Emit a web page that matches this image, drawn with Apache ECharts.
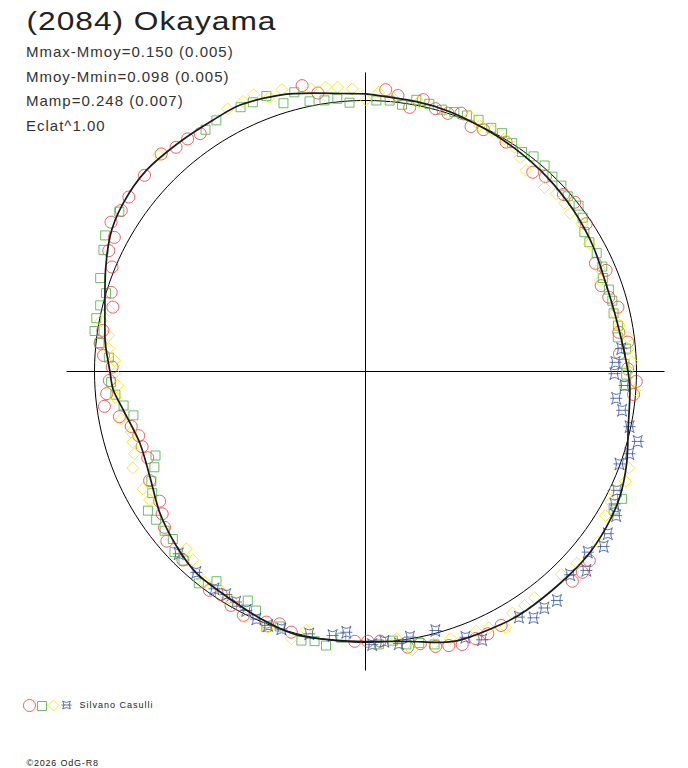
<!DOCTYPE html>
<html><head><meta charset="utf-8">
<script src="https://cdn.jsdelivr.net/npm/echarts@6/dist/echarts.min.js"></script>
<style>html,body{margin:0;padding:0;background:#fff}#c{width:688px;height:768px}</style>
</head><body><div id="c"></div>
<script>
// ---- texts ----
const TITLE = '(2084) Okayama';
const INFO_LINES = ['Mmax-Mmoy=0.150 (0.005)', 'Mmoy-Mmin=0.098 (0.005)', 'Mamp=0.248 (0.007)', 'Eclat^1.00'];
const OBSERVER = 'Silvano Casulli';
const FOOTER = '\u00A92026 OdG-R8';
const SESSIONS = ['Session 1', 'Session 2', 'Session 3', 'Session 4'];

// ---- data: [rotation angle (deg, clockwise from top), magnitude offset from mean (mag, + = brighter)] ----
const SESSION_1 = [
[347.5,0.089],[350.3,0.047],[330.5,0.118],[325.2,0.076],[322.6,0.089],[319.8,0.092],[316.8,0.112],[314.3,0.136],[311.6,0.100],[308.7,0.119],[306.4,0.094],[303.4,0.088],[300.4,0.098],[298.1,0.056],[295.2,0.052],[292.4,0.013],[287.3,-0.019],[284.3,-0.042],[278.9,-0.021],[276.1,-0.017],[273.5,-0.035],[271.0,-0.072],
[4.1,0.047],[6.7,0.028],[9.5,-0.013],[12.0,0.028],[14.9,0.004],[17.7,0.000],[20.3,0.018],[23.3,-0.017],[26.0,-0.008],[31.5,-0.008],[40.0,-0.044],[42.7,-0.023],[48.2,-0.022],[51.0,-0.008],[56.2,-0.022],[64.8,-0.069],[67.2,-0.041],[70.0,-0.082],[73.0,-0.068],[75.7,-0.043],[81.2,-0.060],[83.6,-0.029],[86.0,-0.067],[89.4,-0.036],
[92.1,0.000],[94.9,-0.008],[130.2,0.090],[132.8,0.100],[135.4,0.096],[151.9,0.069],[155.0,0.075],[157.6,0.073],[160.5,0.076],[163.1,0.063],[165.7,0.052],[168.6,0.027],[171.3,0.032],[176.9,-0.004],[179.5,-0.005],
[182.3,-0.004],[195.9,0.000],[198.8,-0.018],[201.6,-0.006],[206.6,0.007],[209.9,-0.005],[212.9,-0.022],[215.5,-0.009],[224.1,-0.035],[229.5,-0.040],[232.2,-0.068],[235.0,-0.093],[237.8,-0.113],[243.2,-0.119],[248.4,-0.150],[251.4,-0.144],[254.2,-0.144],[256.8,-0.124],[259.6,-0.085],[262.4,-0.031],[265.1,-0.046],[268.0,-0.060]
];
const SESSION_2 = [
[356.6,-0.007],[354.1,0.013],[351.4,0.013],[348.3,0.020],[345.7,0.070],[343.0,0.039],[340.2,0.089],[337.3,0.085],[334.7,0.087],[329.3,0.086],[326.5,0.077],[303.0,0.092],[300.2,0.126],[297.6,0.093],[294.9,0.073],[289.4,0.042],[286.8,0.000],[284.0,0.010],[281.2,0.014],[278.5,0.012],[276.1,-0.014],[273.1,-0.057],
[2.3,0.001],[5.1,0.004],[7.8,-0.007],[10.6,0.022],[13.4,0.017],[16.3,0.007],[18.9,0.013],[21.6,0.018],[24.2,0.020],[27.3,0.013],[29.8,0.015],[32.7,0.002],[35.5,-0.006],[38.0,0.008],[41.0,0.008],[43.8,-0.004],[46.5,-0.004],[49.1,-0.014],[52.1,-0.004],[54.7,-0.020],[57.5,-0.047],[60.0,-0.051],[62.9,-0.046],[66.1,-0.049],[68.5,-0.065],[71.4,-0.058],[74.0,-0.058],[76.8,-0.066],[79.7,-0.059],[82.3,-0.067],[85.0,-0.038],[88.3,-0.049],
[90.7,-0.042],[93.1,-0.047],[116.4,0.063],[119.1,0.053],[165.8,0.043],[168.8,0.024],[171.5,0.020],[174.2,-0.002],[177.2,0.009],
[185.2,-0.015],[188.2,0.024],[190.7,0.014],[193.4,0.023],[198.6,-0.008],[201.2,0.013],[204.6,-0.033],[207.2,-0.055],[215.4,-0.056],[218.2,-0.006],[223.9,-0.035],[226.6,-0.033],[229.0,-0.064],[231.6,-0.060],[234.7,-0.059],[237.4,-0.052],[240.3,-0.104],[242.9,-0.124],[245.6,-0.160],[248.2,-0.183],[259.3,-0.142],[262.0,-0.109],[264.7,-0.081],[267.6,-0.067]
];
const SESSION_3 = [
[0.1,0.003],[357.3,0.049],[354.4,0.060],[352.0,0.066],[349.1,0.069],[343.5,0.094],[340.7,0.080],[338.0,0.112],[335.6,0.104],[332.3,0.104],[329.6,0.126],[327.3,0.127],[324.2,0.123],[321.6,0.133],[319.0,0.117],[316.3,0.114],[283.4,-0.032],[280.9,-0.007],[278.0,-0.048],[275.1,-0.054],[272.5,-0.081],
[2.7,0.035],[5.7,0.017],[11.2,0.014],[16.8,0.010],[22.3,0.019],[24.9,0.000],[27.7,0.005],[30.8,0.000],[33.6,-0.007],[35.9,-0.029],[38.6,-0.056],[44.2,-0.058],[47.0,-0.042],[49.8,-0.042],[52.3,-0.050],[55.7,-0.036],[60.3,-0.054],[66.3,-0.063],[68.8,-0.079],[76.8,-0.062],[79.7,-0.053],[82.5,-0.027],[85.1,-0.031],[88.0,-0.017],[89.8,-0.036],[94.0,-0.005],
[110.1,0.038],[112.9,0.046],[115.8,0.015],[118.0,0.030],[121.0,0.036],[126.3,0.071],[132.2,0.058],[136.0,0.045],[143.2,0.047],[145.8,0.049],[148.7,0.048],[151.3,0.084],[154.3,0.055],[156.9,0.046],[162.4,0.038],[165.8,0.040],[170.5,0.046],[173.3,-0.008],
[192.9,-0.022],[195.5,0.026],[200.9,0.011],[206.2,0.012],[210.2,-0.024],[212.9,-0.033],[217.4,-0.024],[219.6,-0.031],[222.5,-0.063],[225.3,-0.077],[239.3,-0.081],[242.2,-0.079],[247.5,-0.078],[250.4,-0.105],[253.1,-0.113],[255.5,-0.118],[259.0,-0.091],[264.1,-0.080],[266.8,-0.093],[269.5,-0.082]
];
const SESSION_4 = [
[84.9,-0.058],[87.9,-0.085],[90.5,-0.090],[93.1,-0.047],[96.1,-0.077],[98.6,-0.047],[101.8,-0.005],[104.4,0.041],[107.3,0.022],[110.0,-0.003],[115.3,0.029],[118.0,0.045],[119.9,0.074],[123.8,0.084],[126.3,0.100],[129.1,0.063],[132.0,0.107],[134.8,0.071],[140.1,0.112],[142.9,0.104],[145.7,0.111],[148.0,0.076],[151.1,0.124],[154.0,0.118],[156.5,0.088],[159.4,0.053],[164.9,-0.011],[170.5,-0.007],[173.0,0.013],[176.0,-0.002],[178.6,0.009],
[184.2,-0.039],[187.1,-0.020],[192.1,-0.011],[198.1,-0.001],[201.0,0.004],[203.8,-0.002],[206.5,-0.016],[209.3,-0.027],[212.0,-0.033],[214.8,-0.026],[220.1,-0.034],[225.7,-0.041]
];
// fitted lightcurve
const FIT = [
[0,0.027],[10.7,0.015],[18,0.009],[26.6,-0.003],[34.3,-0.011],[42.9,-0.020],[52.1,-0.032],[61.3,-0.046],[70.6,-0.062],[78.4,-0.060],[88.2,-0.040],[94,-0.024],[101.9,-0.010],[109.4,0.024],[116.2,0.051],[122.8,0.064],[129.9,0.071],[137.4,0.068],[146,0.069],[152,0.065],[160.6,0.056],[165.7,0.035],[170.6,0.011],[180,-0.004],[186.8,-0.002],[194.6,0.005],[202.4,-0.009],[211.6,-0.027],[219.9,-0.032],[227.1,-0.055],[235.4,-0.087],[244,-0.127],[252.3,-0.140],[261,-0.105],[265.8,-0.074],[270,-0.063],[277.6,-0.033],[288,0.012],[297.8,0.073],[304.8,0.098],[312.6,0.108],[321.1,0.099],[328.8,0.094],[334.8,0.096],[342.8,0.075],[349.3,0.050],[357.4,0.029],[360,0.027]
];

// ---- layout / style ----
const POLAR_R = 299, MEAN_R = 271, PX_PER_MAG = 245;
const R_MIN = -MEAN_R / PX_PER_MAG, R_MAX = (POLAR_R - MEAN_R) / PX_PER_MAG;
const FONT = '"Liberation Sans", Arial, sans-serif';
const COLORS = ['#ee3434', '#4aae42', '#f2e400', '#32509e'];
const STAR = 'path://M-10,-10 Q0,-3 10,-10 Q3,0 10,10 Q0,3 -10,10 Q-3,0 -10,-10 Z M-13,0 L13,0';
const toPolar = arr => arr.map(p => [p[1], p[0]]);

const hollow = c => ({color: 'rgba(0,0,0,0)', borderColor: c, borderWidth: 1});

const seriesDefs = [
  {data: SESSION_1, symbol: 'circle', size: 12},
  {data: SESSION_2, symbol: 'rect', size: 9},
  {data: SESSION_3, symbol: 'diamond', size: 12},
  {data: SESSION_4, symbol: STAR, size: 12}
];

const series = seriesDefs.map((d, i) => ({
  type: 'scatter', name: SESSIONS[i], coordinateSystem: 'polar',
  data: toPolar(d.data), symbol: d.symbol, symbolSize: d.size,
  itemStyle: hollow(COLORS[i]), z: 2 + i, silent: true
}));
series.push({
  type: 'line', name: 'fit', coordinateSystem: 'polar', data: toPolar(FIT),
  smooth: 0.3, symbol: 'none', lineStyle: {color: '#1a1a1a', width: 1.7}, z: 10, silent: true
});

const legendPos = [
  {left: 23, top: 699, w: 12, h: 12},
  {left: 37, top: 701, w: 9, h: 9},
  {left: 47.5, top: 699.5, w: 11, h: 11},
  {left: 61, top: 700.5, w: 10, h: 10}
];
const legend = SESSIONS.map((name, i) => ({
  data: [{name, icon: seriesDefs[i].symbol, itemStyle: hollow(COLORS[i])}],
  left: legendPos[i].left, top: legendPos[i].top, padding: 0,
  itemWidth: legendPos[i].w, itemHeight: legendPos[i].h, selectedMode: false,
  formatter: () => (i === 3 ? OBSERVER : ''),
  textStyle: {fontFamily: FONT, fontSize: 9, color: '#222', padding: [0, 0, 0, 3]}
}));

const graphic = [
  {type: 'text', x: 26.5, y: 21, scaleX: 1.22,
    style: {text: TITLE, font: '26px ' + FONT, fill: '#222', verticalAlign: 'middle', textVerticalAlign: 'middle'}},
  ...INFO_LINES.map((t, i) => ({type: 'text', x: 26, y: 51.5 + i * 24.7,
    style: {text: t, font: '15px ' + FONT, fill: '#333', verticalAlign: 'middle', textVerticalAlign: 'middle'}})),
  {type: 'text', x: 26.5, y: 762.5, style: {text: FOOTER, font: '9px ' + FONT, fill: '#222', verticalAlign: 'middle', textVerticalAlign: 'middle'}}
];

const chart = echarts.init(document.getElementById('c'), null, {renderer: 'svg'});
chart.setOption({
  animation: false,
  backgroundColor: '#fff',
  polar: {center: [365.5, 371.5], radius: POLAR_R},
  angleAxis: {type: 'value', min: 0, max: 360, interval: 90, startAngle: 90, clockwise: true,
    axisLine: {show: false}, axisTick: {show: false}, axisLabel: {show: false},
    splitLine: {show: true, lineStyle: {color: '#000', width: 1}}},
  radiusAxis: {type: 'value', min: R_MIN, max: R_MAX, interval: -R_MIN,
    axisLine: {show: false}, axisTick: {show: false}, axisLabel: {show: false},
    splitLine: {show: true, lineStyle: {color: ['rgba(0,0,0,0)', '#000', 'rgba(0,0,0,0)'], width: 1}}},
  legend, graphic, series
});

function applySpacing() {
  const map = new Map([[TITLE, 0.8], [OBSERVER, 1], [FOOTER, 0.8]]);
  INFO_LINES.forEach(t => map.set(t, 1));
  document.querySelectorAll('#c svg text').forEach(t => {
    const s = map.get(t.textContent);
    if (s != null) t.setAttribute('letter-spacing', s);
  });
}
applySpacing();
chart.on('finished', applySpacing);
setTimeout(applySpacing, 50);
</script>
</body></html>
